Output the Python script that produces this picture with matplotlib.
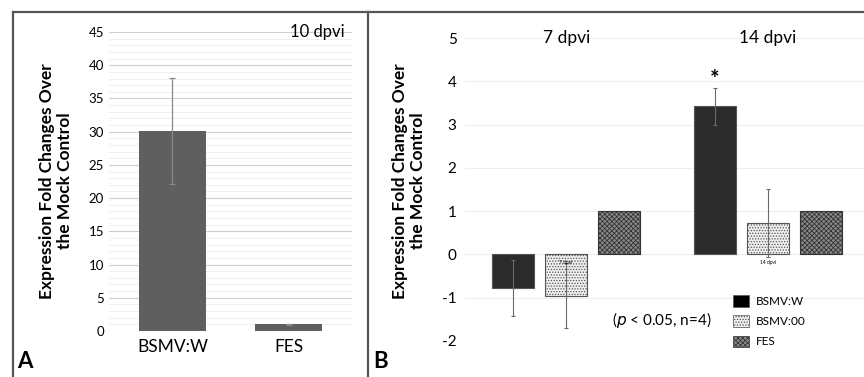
import numpy as np
import matplotlib
matplotlib.use("Agg")
import matplotlib.pyplot as plt
from matplotlib.lines import Line2D
from matplotlib.patches import Patch

plt.rcParams['font.family'] = ['Lato', 'DejaVu Sans']
plt.rcParams['hatch.linewidth'] = 0.6

# Panel A data
a_categories = ["BSMV:W", "FES"]
a_values = [30.1, 1.0]
a_errors = [8.0, 0.1]

# Panel B data
b_groups = ["7 dpvi", "14 dpvi"]
b_series = ["BSMV:W", "BSMV:00", "FES"]
b_bsmv_w = [-0.77, 3.42]
b_bsmv_00 = [-0.95, 0.73]
b_fes = [1.0, 1.0]
b_bsmv_w_err = [0.65, 0.43]
b_bsmv_00_err = [0.75, 0.79]
b_fes_err = [0.0, 0.0]

W, H = 864, 377
fig = plt.figure(figsize=(W / 100, H / 100), dpi=100)

def fx(px):
    return px / W

def fy(py):
    return 1 - py / H

ylabel = "Expression Fold Changes Over\nthe Mock Control"

# ---- Panel A ----
axA = fig.add_axes([fx(109), fy(331), fx(352 - 109), fy(32) - fy(331)])
xa = np.arange(len(a_categories))
axA.bar(xa, a_values, width=0.58, color="#5f5f5f", zorder=3)
axA.errorbar(xa, a_values, yerr=a_errors, fmt="none", ecolor="#8a8a8a",
             elinewidth=0.9, capsize=2.5, capthick=0.9, zorder=4)
axA.set_xlim(-0.547, 1.547)
axA.set_ylim(0, 45)
axA.set_yticks(np.arange(0, 46, 5))
axA.set_yticks(np.arange(0, 46, 1), minor=True)
axA.grid(axis="y", which="major", color="#d0d0d0", linewidth=0.8, zorder=0)
axA.grid(axis="y", which="minor", color="#ececec", linewidth=0.6, zorder=0)
axA.set_xticks(xa)
axA.set_xticklabels(a_categories)
axA.tick_params(axis="both", which="both", length=0, labelsize=9.5)
axA.tick_params(axis="x", labelsize=12.5, pad=6)
for s in axA.spines.values():
    s.set_visible(False)
axA.text(1.25, 45, "10 dpvi", fontsize=12, ha="center", va="center")
fig.text(fx(56), fy(181), ylabel, rotation=90, fontsize=12.5, fontweight="bold",
         ha="center", va="center", linespacing=1.15)
fig.text(fx(25), fy(362), "A", fontsize=16, fontweight="bold", ha="center", va="center")

# ---- Panel B ----
axB = fig.add_axes([fx(465), fy(341), fx(864 - 465), fy(38) - fy(341)])
centers = np.array([0.0, 3.8])
bw = 0.79
styles = [
    dict(color="#2b2b2b", edgecolor="#555555", hatch=None),
    dict(color="#efefef", edgecolor="#555555", hatch="......"),
    dict(color="#8a8a8a", edgecolor="#333333", hatch="xxxxxxx"),
]
vals = [b_bsmv_w, b_bsmv_00, b_fes]
errs = [b_bsmv_w_err, b_bsmv_00_err, b_fes_err]
handles = []
for i, (name, v, e, st) in enumerate(zip(b_series, vals, errs, styles)):
    pos = centers + (i - 1)
    axB.bar(pos, v, width=bw, color=st["color"], edgecolor=st["edgecolor"],
            hatch=st["hatch"], linewidth=0.8, zorder=3)
    if max(e) > 0:
        axB.errorbar(pos, v, yerr=e, fmt="none", ecolor="#6a6a6a",
                     elinewidth=0.8, capsize=1.5, capthick=0.8, zorder=4)
    hcol = "black" if i == 0 else st["color"]
    handles.append(Patch(facecolor=hcol, edgecolor=st["edgecolor"],
                         hatch=st["hatch"], linewidth=0.5, label=name))
axB.set_xlim(-1.906, 5.61)
axB.set_ylim(-2, 5)
axB.set_yticks(np.arange(-2, 6, 1))
axB.set_yticklabels([str(t) for t in range(-2, 6)])
axB.grid(axis="y", color="#eeeeee", linewidth=0.8, zorder=0)
axB.axhline(0, color="#e4e4e4", linewidth=0.8, zorder=1)
axB.set_xticks([])
axB.tick_params(axis="y", length=0, labelsize=11, pad=6)
for s in axB.spines.values():
    s.set_visible(False)
for c, g in zip(centers, b_groups):
    axB.text(c, 5.0, g, fontsize=12.5, ha="center", va="center")
    axB.text(c, -0.18, g, fontsize=3.5, ha="center", va="center", zorder=5)
axB.text(centers[1] - 1, b_bsmv_w[1] + b_bsmv_w_err[1] + 0.2, "*",
         fontsize=16, fontweight="bold", ha="center", va="center")
axB.text(1.8, -1.52, r"($\it{p}$ < 0.05, n=4)", fontsize=11, ha="center", va="center")
fig.text(fx(409), fy(181), ylabel, rotation=90, fontsize=12.5, fontweight="bold",
         ha="center", va="center", linespacing=1.15)
fig.text(fx(381), fy(362), "B", fontsize=16, fontweight="bold", ha="center", va="center")
fig.legend(handles=handles, loc="upper left", bbox_to_anchor=(fx(725), fy(287)),
           frameon=False, fontsize=8.5, handlelength=1.3, handleheight=1.15,
           labelspacing=0.7, handletextpad=0.6, borderpad=0.2)

# panel frames
frame = dict(color="#555555", linewidth=1.6)
fig.add_artist(Line2D([fx(13), fx(864)], [fy(12), fy(12)], **frame))
fig.add_artist(Line2D([fx(13), fx(13)], [fy(12), 0], **frame))
fig.add_artist(Line2D([fx(368), fx(368)], [fy(12), 0], **frame))

fig.savefig("out.png", dpi=100)
